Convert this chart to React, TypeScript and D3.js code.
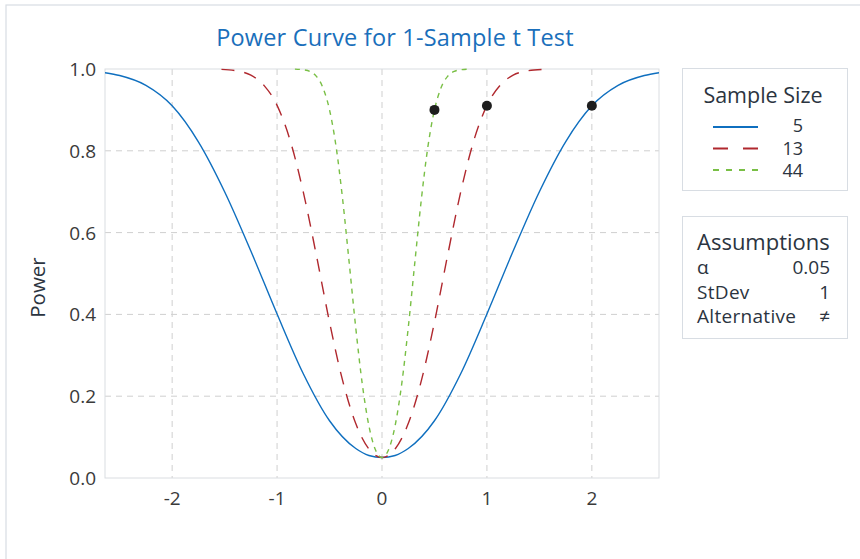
import * as d3 from "d3";

// sample sizes and the dots marking each target power
const sampleSizes = ["5", "13", "44"];
const seriesColors = ["#0f6fbf", "#b0282e", "#79bf45"];
const seriesDash = ["", "13,10", "5,5"];

// power values (symmetric around 0)
const diffN5 = [-2.64, -2.5, -2.25, -2, -1.75, -1.5, -1.25, -1, -0.75, -0.5, -0.25, -0.125, 0, 0.125, 0.25, 0.5, 0.75, 1, 1.25, 1.5, 1.75, 2, 2.25, 2.5, 2.64];
const powerN5 = [0.991, 0.984, 0.96, 0.91, 0.822, 0.7, 0.555, 0.401, 0.255, 0.14, 0.072, 0.055, 0.05, 0.055, 0.072, 0.14, 0.255, 0.401, 0.555, 0.7, 0.822, 0.91, 0.96, 0.984, 0.991];

const diffN13 = [-1.53, -1.375, -1.25, -1.125, -1, -0.875, -0.75, -0.625, -0.5, -0.375, -0.25, -0.125, 0, 0.125, 0.25, 0.375, 0.5, 0.625, 0.75, 0.875, 1, 1.125, 1.25, 1.375, 1.53];
const powerN13 = [0.999, 0.995, 0.985, 0.96, 0.911, 0.825, 0.699, 0.544, 0.381, 0.238, 0.133, 0.071, 0.05, 0.071, 0.133, 0.238, 0.381, 0.544, 0.699, 0.825, 0.911, 0.96, 0.985, 0.995, 0.999];

const diffN44 = [-0.83, -0.75, -0.6875, -0.625, -0.5625, -0.5, -0.4375, -0.375, -0.3125, -0.25, -0.1875, -0.125, -0.0625, 0, 0.0625, 0.125, 0.1875, 0.25, 0.3125, 0.375, 0.4375, 0.5, 0.5625, 0.625, 0.6875, 0.75, 0.83];
const powerN44 = [0.9997, 0.998, 0.994, 0.982, 0.954, 0.9, 0.81, 0.681, 0.526, 0.367, 0.229, 0.128, 0.069, 0.05, 0.069, 0.128, 0.229, 0.367, 0.526, 0.681, 0.81, 0.9, 0.954, 0.982, 0.994, 0.998, 0.9997];

const dotDiff = [2, 1, 0.5];
const dotPower = [0.91, 0.91, 0.9];

const xTicks = [-2, -1, 0, 1, 2];
const yTicks = [0, 0.2, 0.4, 0.6, 0.8, 1.0];

const assumptionLabels = ["α", "StDev", "Alternative"];
const assumptionValues = ["0.05", "1", "≠"];

const font = "'Open Sans', Lato, sans-serif";
const textColor = "#2b3440";

export default function App() {
  const W = 860;
  const H = 559;
  const plot = { left: 105, top: 69, right: 659, bottom: 478 };

  const x = d3.scaleLinear().domain([-2.64, 2.64]).range([plot.left, plot.right]);
  const y = d3.scaleLinear().domain([0, 1]).range([plot.bottom, plot.top]);

  const line = d3
    .line<[number, number]>()
    .x((d) => x(d[0]))
    .y((d) => y(d[1]))
    .curve(d3.curveMonotoneX);

  const series = [
    d3.zip(diffN5, powerN5) as [number, number][],
    d3.zip(diffN13, powerN13) as [number, number][],
    d3.zip(diffN44, powerN44) as [number, number][],
  ];

  const fmt = d3.format(".1f");

  return (
    <svg width={W} height={H} style={{ position: "absolute", left: 0, top: 0, background: "#fff" }} fontFamily={font}>
      {/* outer frame */}
      <rect x={6} y={5} width={900} height={600} fill="none" stroke="#d8dde3" strokeWidth={1.2} />

      <text x={395} y={46} textAnchor="middle" fontSize={23.5} fill="#1a6fbb" letterSpacing={0.2}>
        Power Curve for 1-Sample t Test
      </text>

      {/* grid */}
      {xTicks.map((t) => (
        <line key={"gx" + t} x1={x(t)} x2={x(t)} y1={plot.top} y2={plot.bottom} stroke="#cfcfcf" strokeDasharray="6,5" />
      ))}
      {yTicks.filter((t) => t > 0 && t < 1).map((t) => (
        <line key={"gy" + t} x1={plot.left} x2={plot.right} y1={y(t)} y2={y(t)} stroke="#cfcfcf" strokeDasharray="6,5" />
      ))}
      <rect x={plot.left} y={plot.top} width={plot.right - plot.left} height={plot.bottom - plot.top} fill="none" stroke="#dadde1" />

      {/* axis labels */}
      {yTicks.map((t) => (
        <text key={"ty" + t} x={96} y={y(t) + 7} textAnchor="end" fontSize={19} fill="#3a3a3a">
          {fmt(t)}
        </text>
      ))}
      {xTicks.map((t) => (
        <text key={"tx" + t} x={x(t)} y={505} textAnchor="middle" fontSize={19} fill="#3a3a3a">
          {t}
        </text>
      ))}
      <text transform={`translate(45, ${(plot.top + plot.bottom) / 2 + 14}) rotate(-90)`} textAnchor="middle" fontSize={20.5} fill={textColor}>
        Power
      </text>

      {/* curves */}
      <defs>
        <clipPath id="plotClip">
          <rect x={plot.left} y={plot.top - 3} width={plot.right - plot.left} height={plot.bottom - plot.top + 3} />
        </clipPath>
      </defs>
      <g clipPath="url(#plotClip)">
        {series.map((s, i) => (
          <path key={"s" + i} d={line(s) || ""} fill="none" stroke={seriesColors[i]} strokeWidth={1.4} strokeDasharray={seriesDash[i]} />
        ))}
      </g>
      {dotDiff.map((d, i) => (
        <circle key={"dot" + i} cx={x(d)} cy={y(dotPower[i])} r={5} fill="#1e1e1e" />
      ))}

      {/* sample size legend */}
      <rect x={682.5} y={68.5} width={165} height={122} fill="#fff" stroke="#d8dde3" />
      <text x={763} y={103} textAnchor="middle" fontSize={21.5} fill={textColor}>
        Sample Size
      </text>
      {sampleSizes.map((s, i) => (
        <g key={"leg" + s}>
          <line x1={713} x2={758} y1={127 + i * 21.5} y2={127 + i * 21.5} stroke={seriesColors[i]} strokeWidth={2} strokeDasharray={i === 1 ? "15,15" : i === 2 ? "6,7" : ""} />
          <text x={803} y={132 + i * 22.5} textAnchor="end" fontSize={18} fill={textColor}>
            {s}
          </text>
        </g>
      ))}

      {/* assumptions */}
      <rect x={682.5} y={216.5} width={165} height={122} fill="#fff" stroke="#d8dde3" />
      <text x={697} y={250} fontSize={22} fill={textColor}>
        Assumptions
      </text>
      {assumptionLabels.map((a, i) => (
        <g key={"as" + a}>
          <text x={697} y={274 + i * 24.5} fontSize={19} letterSpacing={0.3} fill={textColor}>
            {a}
          </text>
          <text x={830} y={274 + i * 24.5} textAnchor="end" fontSize={19} fill={textColor}>
            {assumptionValues[i]}
          </text>
        </g>
      ))}
    </svg>
  );
}
